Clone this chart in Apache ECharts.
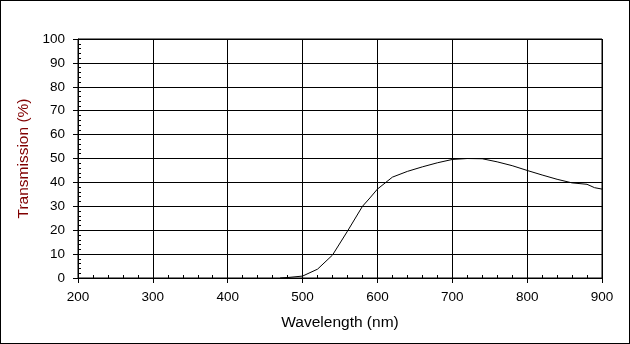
<!DOCTYPE html>
<html>
<head>
<meta charset="utf-8">
<script src="https://cdn.jsdelivr.net/npm/echarts@6/dist/echarts.min.js"></script>
<style>
html,body{margin:0;padding:0;background:#fff;}
#c{width:630px;height:344px;box-sizing:border-box;}
#frame{position:absolute;left:0;top:0;width:630px;height:344px;box-sizing:border-box;border:1px solid #000;pointer-events:none;}
</style>
</head>
<body>
<div id="c"></div>
<div id="frame"></div>
<script>
const wavelengths = [470, 480, 500, 520, 540, 560, 580, 590, 600, 620, 640, 660, 680, 700, 720, 740, 760, 780, 800, 820, 840, 860, 880, 890, 900];
const transmission = [0, 0.2, 0.8, 3.7, 9.6, 19.6, 30, 33.5, 37.2, 42.2, 44.6, 46.5, 48.2, 49.6, 50, 49.9, 48.6, 47.0, 45.0, 43.1, 41.3, 39.8, 39.2, 37.8, 37.2];
const xTicks = [200, 300, 400, 500, 600, 700, 800, 900];
const yTicks = [0, 10, 20, 30, 40, 50, 60, 70, 80, 90, 100];
const xTitle = 'Wavelength (nm)';
const yTitle = 'Transmission (%)';

const font = 'Arial, "Liberation Sans", sans-serif';
const chart = echarts.init(document.getElementById('c'), null, {renderer: 'canvas'});
const data = wavelengths.map((w, i) => [w, transmission[i]]);
chart.setOption({
  animation: false,
  backgroundColor: '#fff',
  grid: {left: 78, top: 39, right: 28, bottom: 66, show: true, borderColor: '#000', borderWidth: 1, containLabel: false},
  xAxis: [{
    type: 'value', min: xTicks[0], max: xTicks[xTicks.length - 1], interval: 100, position: 'bottom',
    axisLine: {show: true, lineStyle: {color: '#000', width: 1}},
    axisTick: {show: true, inside: false, length: 5, lineStyle: {color: '#000'}},
    axisLabel: {color: '#000', fontSize: 13.5, fontFamily: font, margin: 12},
    splitLine: {show: true, lineStyle: {color: '#000', width: 1}},
    name: xTitle, nameLocation: 'middle', nameGap: 37,
    nameTextStyle: {color: '#000', fontSize: 15.5, fontFamily: font}
  }, {
    type: 'value', min: 200, max: 900, interval: 20, position: 'bottom',
    axisLine: {show: false},
    axisTick: {show: true, inside: true, length: 3, lineStyle: {color: '#000'}},
    axisLabel: {show: false}, splitLine: {show: false}
  }],
  yAxis: [{
    type: 'value', min: yTicks[0], max: yTicks[yTicks.length - 1], interval: 10, position: 'left',
    axisLine: {show: true, lineStyle: {color: '#000', width: 1}},
    axisTick: {show: true, inside: false, length: 5, lineStyle: {color: '#000'}},
    axisLabel: {color: '#000', fontSize: 13.5, fontFamily: font, margin: 13},
    splitLine: {show: true, lineStyle: {color: '#000', width: 1}},
    name: yTitle, nameLocation: 'middle', nameGap: 43,
    nameTextStyle: {color: '#800000', fontSize: 15.5, fontFamily: font}
  }, {
    type: 'value', min: 0, max: 100, interval: 2, position: 'left',
    axisLine: {show: false},
    axisTick: {show: true, inside: true, length: 3, lineStyle: {color: '#000'}},
    axisLabel: {show: false}, splitLine: {show: false}
  }],
  series: [{
    type: 'line', data: data, xAxisIndex: 0, yAxisIndex: 0,
    showSymbol: false, symbol: 'none', smooth: false,
    lineStyle: {color: '#000', width: 1}
  }]
});
</script>
</body>
</html>
